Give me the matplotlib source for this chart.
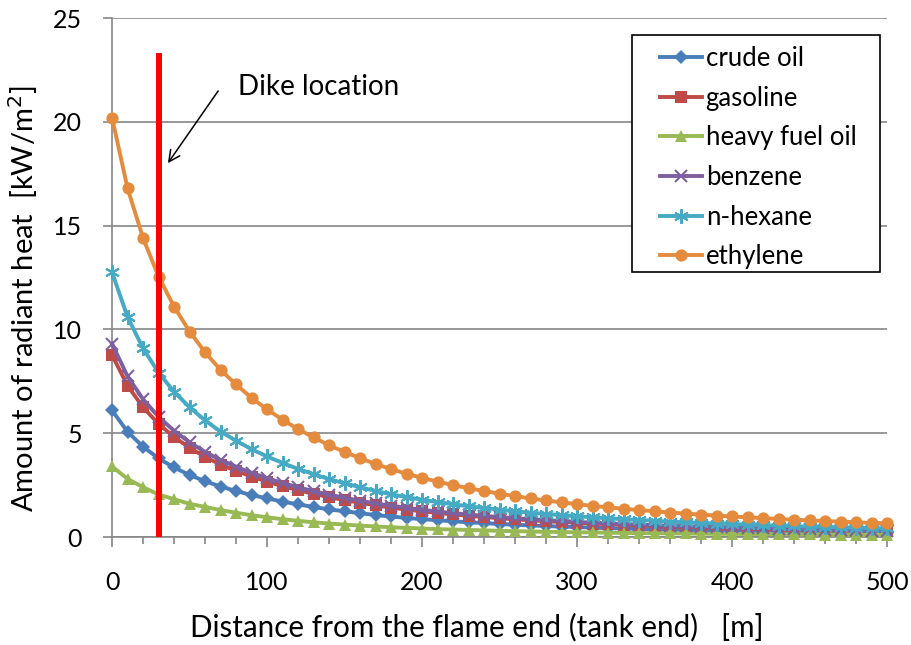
import matplotlib
matplotlib.use("Agg")
import matplotlib.pyplot as plt
from matplotlib.patches import Rectangle

plt.rcParams['font.family'] = ['Lato', 'DejaVu Sans']

distance = list(range(0, 510, 10))

crude_oil = [6.1, 5.07, 4.35, 3.79, 3.35, 2.99, 2.69, 2.43, 2.22, 2.02,
             1.86, 1.71, 1.57, 1.45, 1.33, 1.24, 1.15, 1.06, 0.99, 0.92,
             0.86, 0.81, 0.76, 0.71, 0.67, 0.63, 0.59, 0.56, 0.53, 0.5,
             0.48, 0.45, 0.43, 0.41, 0.39, 0.37, 0.36, 0.34, 0.33, 0.31,
             0.3, 0.29, 0.27, 0.26, 0.25, 0.24, 0.23, 0.22, 0.21, 0.21, 0.2]
gasoline = [8.77, 7.29, 6.25, 5.45, 4.82, 4.3, 3.86, 3.49, 3.19, 2.91,
            2.67, 2.45, 2.26, 2.08, 1.92, 1.78, 1.65, 1.53, 1.42, 1.32,
            1.24, 1.16, 1.09, 1.02, 0.96, 0.91, 0.85, 0.81, 0.76, 0.72,
            0.69, 0.65, 0.62, 0.59, 0.56, 0.54, 0.51, 0.49, 0.47, 0.45,
            0.43, 0.41, 0.39, 0.38, 0.36, 0.35, 0.33, 0.32, 0.31, 0.3, 0.29]
heavy_fuel_oil = [3.4, 2.8, 2.4, 2.05, 1.82, 1.6, 1.45, 1.3, 1.17, 1.05,
                  0.95, 0.86, 0.78, 0.71, 0.65, 0.6, 0.55, 0.51, 0.47, 0.44,
                  0.41, 0.38, 0.36, 0.34, 0.32, 0.3, 0.28, 0.27, 0.25, 0.24,
                  0.23, 0.22, 0.21, 0.2, 0.19, 0.18, 0.175, 0.17, 0.16, 0.155,
                  0.15, 0.145, 0.14, 0.135, 0.13, 0.125, 0.12, 0.115, 0.11, 0.105, 0.1]
benzene = [9.31, 7.74, 6.64, 5.79, 5.12, 4.56, 4.1, 3.71, 3.39, 3.09,
           2.84, 2.6, 2.4, 2.21, 2.04, 1.89, 1.75, 1.62, 1.51, 1.41,
           1.31, 1.23, 1.15, 1.08, 1.02, 0.96, 0.91, 0.86, 0.81, 0.77,
           0.73, 0.69, 0.66, 0.63, 0.6, 0.57, 0.54, 0.52, 0.5, 0.47,
           0.46, 0.44, 0.42, 0.4, 0.38, 0.37, 0.35, 0.34, 0.33, 0.31, 0.3]
n_hexane = [12.75, 10.6, 9.09, 7.92, 7.0, 6.25, 5.62, 5.08, 4.64, 4.23,
            3.88, 3.57, 3.28, 3.03, 2.79, 2.59, 2.4, 2.22, 2.06, 1.92,
            1.8, 1.68, 1.58, 1.48, 1.4, 1.32, 1.24, 1.17, 1.11, 1.05,
            1.0, 0.95, 0.9, 0.86, 0.82, 0.78, 0.74, 0.71, 0.68, 0.65,
            0.62, 0.6, 0.57, 0.55, 0.52, 0.5, 0.49, 0.47, 0.45, 0.43, 0.42]
ethylene = [20.2, 16.8, 14.4, 12.55, 11.1, 9.9, 8.9, 8.05, 7.35, 6.7,
            6.15, 5.65, 5.2, 4.8, 4.42, 4.1, 3.8, 3.52, 3.27, 3.05,
            2.85, 2.67, 2.5, 2.35, 2.22, 2.09, 1.97, 1.86, 1.76, 1.67,
            1.58, 1.5, 1.43, 1.36, 1.3, 1.24, 1.18, 1.13, 1.08, 1.03,
            0.99, 0.95, 0.91, 0.87, 0.83, 0.8, 0.77, 0.74, 0.71, 0.68, 0.66]

series_names = ["crude oil", "gasoline", "heavy fuel oil", "benzene", "n-hexane", "ethylene"]
dike_x = 30
dike_top = 23.3
x_ticks = [0, 100, 200, 300, 400, 500]
y_ticks = [0, 5, 10, 15, 20, 25]

W, H = 911, 645
fig = plt.figure(figsize=(W / 100, H / 100), dpi=100)
ax = fig.add_axes([0.123, 0.1674, 0.8507, 0.8046])

styles = [
    dict(color="#4A7EBB", marker="D", ms=7, mew=0),
    dict(color="#BE4B48", marker="s", ms=8, mew=0),
    dict(color="#98B954", marker="^", ms=8.5, mew=0),
    dict(color="#7D60A0", marker="x", ms=8.5, mew=1.5),
    dict(color="#46AAC5", marker=(6, 2, 0), ms=10.5, mew=1.5),
    dict(color="#E48B3E", marker="o", ms=8.8, mew=0),
]
all_series = [crude_oil, gasoline, heavy_fuel_oil, benzene, n_hexane, ethylene]
for i, (name, vals, st) in enumerate(zip(series_names, all_series, styles)):
    ax.plot(distance, vals, label=name, lw=2.8, clip_on=False, zorder=3 + i, **st)

ax.plot([dike_x, dike_x], [0, dike_top], color="#FF0000", lw=4.3, zorder=10,
        solid_capstyle="butt", clip_on=False)

ax.annotate("", xy=(35, 17.9), xytext=(69.5, 21.6),
            arrowprops=dict(arrowstyle="->", color="black", lw=1.1,
                            mutation_scale=20), zorder=11)
ax.text(81, 21.7, "Dike location", fontsize=20, va="center", ha="left")

ax.set_xlim(0, 500)
ax.set_ylim(0, 25)
ax.set_xticks(x_ticks)
ax.set_xticks(range(0, 501, 20), minor=True)
ax.set_yticks(y_ticks)
ax.tick_params(axis="both", which="both", direction="out", colors="#868686",
               labelcolor="black", labelsize=18, width=1.2)
ax.tick_params(axis="x", which="major", length=7.5, pad=17)
ax.tick_params(axis="x", which="minor", length=5)
ax.tick_params(axis="y", which="major", length=6.5, pad=15)

ax.grid(axis="y", color="#868686", lw=1.2)
ax.set_axisbelow(True)
for s in ["top", "right"]:
    ax.spines[s].set_visible(False)
for s in ["left", "bottom"]:
    ax.spines[s].set_color("#868686")
    ax.spines[s].set_linewidth(1.2)

ax.set_xlabel("Distance from the flame end (tank end)   [m]", fontsize=21.3)
ax.xaxis.set_label_coords(0.471, -0.146)
ax.set_ylabel("Amount of radiant heat  [kW/m$^2$]", fontsize=21)
ax.yaxis.set_label_coords(-0.093, 0.4586)

# legend frame
frame = Rectangle((632 / W, 1 - 272 / H), 248 / W, 237 / H, transform=fig.transFigure,
                  facecolor="white", edgecolor="black", lw=1.2, zorder=19)
ax.add_patch(frame)
frame.set_clip_on(False)

leg = ax.legend(loc="upper left", bbox_to_anchor=(660 / W, 1 - 46 / H),
                bbox_transform=fig.transFigure, fontsize=18.5,
                frameon=False, handlelength=1.63,
                handletextpad=0.15, labelspacing=0.57, borderpad=0,
                borderaxespad=0)
leg.set_zorder(20)

fig.savefig("out.png", dpi=100)
